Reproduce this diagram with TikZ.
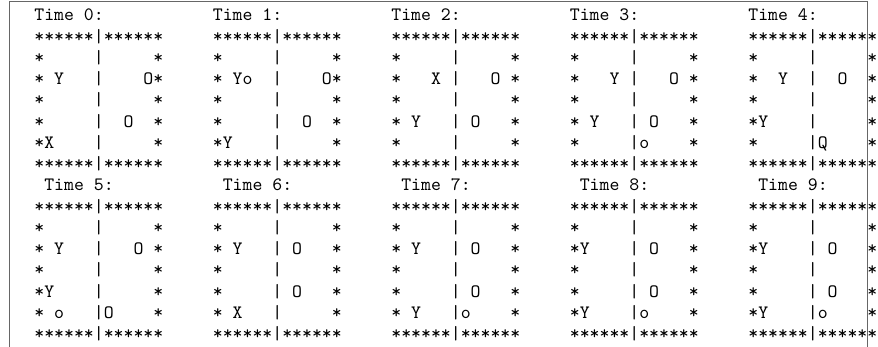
\documentclass[tikz,border=0pt]{standalone}
\newlength\ttcw
\newcommand\ttblk[9]{%
  \pgfmathsetmacro\bx{34.35+178.5*mod(#1,5)}%
  \pgfmathsetmacro\by{326-170*int(#1/5)}%
  \node[ttline] (b#1l0) at (\bx,\by) {#2};
  \node[ttline] (b#1l1) at (\bx,\by-21.25) {#3};
  \node[ttline] (b#1l2) at (\bx,\by-42.5) {#4};
  \node[ttline] (b#1l3) at (\bx,\by-63.75) {#5};
  \node[ttline] (b#1l4) at (\bx,\by-85) {#6};
  \node[ttline] (b#1l5) at (\bx,\by-106.25) {#7};
  \node[ttline] (b#1l6) at (\bx,\by-127.5) {#8};
  \node[ttline] (b#1l7) at (\bx,\by-148.75) {#9};
}
\begin{document}
\settowidth\ttcw{\ttfamily\fontsize{10}{12}\selectfont 0}%
\pgfmathsetmacro\ttsc{9.917/\ttcw}%
\begin{tikzpicture}[x=1pt,y=1pt]
\tikzset{
  ttline/.style={anchor=base west, inner sep=0pt, outer sep=0pt, text=black,
    scale=\ttsc, transform shape,
    font=\ttfamily\fontsize{10}{12}\selectfont},
  frameline/.style={draw=black!60, line width=0.9pt}
}
\useasboundingbox (0,0) rectangle (878,347);
\fill[white] (0,0) rectangle (878,347);
\draw[frameline] (9,-5) -- (9,345.6) -- (867,345.6) -- (867,-5);
% top row
\ttblk{0}{Time~0:}{******|******}{*~~~~~|~~~~~*}{*~Y~~~|~~~~O*}{*~~~~~|~~~~~*}{*~~~~~|~~O~~*}{*X~~~~|~~~~~*}{******|******}
\ttblk{1}{Time~1:}{******|******}{*~~~~~|~~~~~*}{*~Yo~~|~~~~O*}{*~~~~~|~~~~~*}{*~~~~~|~~O~~*}{*Y~~~~|~~~~~*}{******|******}
\ttblk{2}{Time~2:}{******|******}{*~~~~~|~~~~~*}{*~~~X~|~~~O~*}{*~~~~~|~~~~~*}{*~Y~~~|~O~~~*}{*~~~~~|~~~~~*}{******|******}
\ttblk{3}{Time~3:}{******|******}{*~~~~~|~~~~~*}{*~~~Y~|~~~O~*}{*~~~~~|~~~~~*}{*~Y~~~|~O~~~*}{*~~~~~|o~~~~*}{******|******}
\ttblk{4}{Time~4:}{******|******}{*~~~~~|~~~~~*}{*~~Y~~|~~O~~*}{*~~~~~|~~~~~*}{*Y~~~~|~~~~~*}{*~~~~~|Q~~~~*}{******|******}
% bottom row
\ttblk{5}{~Time~5:}{******|******}{*~~~~~|~~~~~*}{*~Y~~~|~~~O~*}{*~~~~~|~~~~~*}{*Y~~~~|~~~~~*}{*~o~~~|O~~~~*}{******|******}
\ttblk{6}{~Time~6:}{******|******}{*~~~~~|~~~~~*}{*~Y~~~|~O~~~*}{*~~~~~|~~~~~*}{*~~~~~|~O~~~*}{*~X~~~|~~~~~*}{******|******}
\ttblk{7}{~Time~7:}{******|******}{*~~~~~|~~~~~*}{*~Y~~~|~O~~~*}{*~~~~~|~~~~~*}{*~~~~~|~O~~~*}{*~Y~~~|o~~~~*}{******|******}
\ttblk{8}{~Time~8:}{******|******}{*~~~~~|~~~~~*}{*Y~~~~|~O~~~*}{*~~~~~|~~~~~*}{*~~~~~|~O~~~*}{*Y~~~~|o~~~~*}{******|******}
\ttblk{9}{~Time~9:}{******|******}{*~~~~~|~~~~~*}{*Y~~~~|~O~~~*}{*~~~~~|~~~~~*}{*~~~~~|~O~~~*}{*Y~~~~|o~~~~*}{******|******}
\end{tikzpicture}
\end{document}
